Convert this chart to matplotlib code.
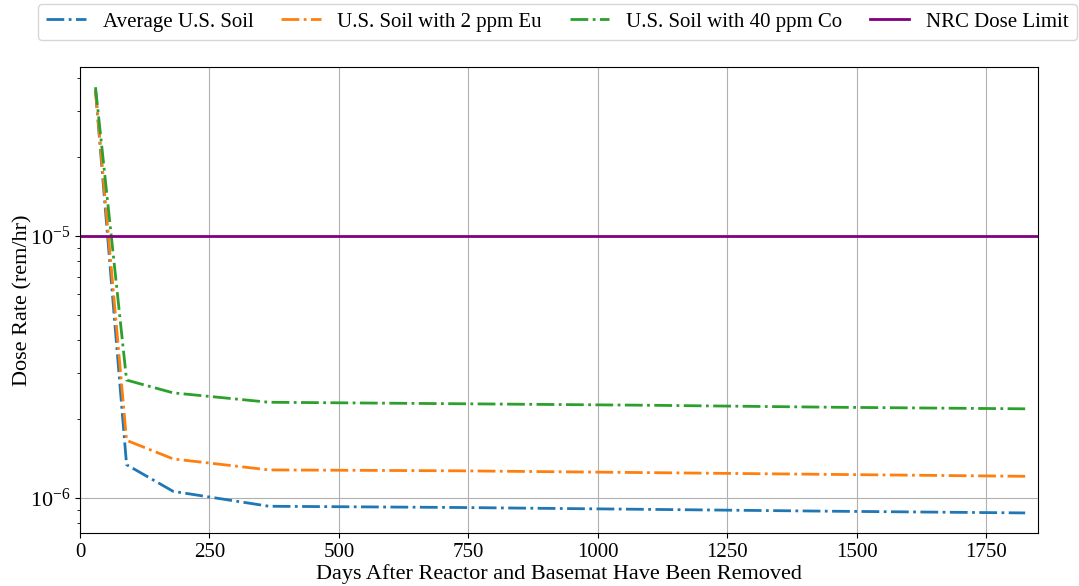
import matplotlib
matplotlib.use("Agg")
import matplotlib.pyplot as plt

plt.rcParams['font.family'] = ['Liberation Serif', 'DejaVu Serif']
plt.rcParams['mathtext.fontset'] = 'stix'

days = [30, 90, 180, 365, 730, 1095, 1460, 1825]
avg_soil = [3.6e-5, 1.34e-6, 1.06e-6, 0.93e-6, 0.92e-6, 0.905e-6, 0.89e-6, 0.877e-6]
eu_soil = [3.6e-5, 1.66e-6, 1.41e-6, 1.28e-6, 1.27e-6, 1.25e-6, 1.23e-6, 1.21e-6]
co_soil = [3.7e-5, 2.82e-6, 2.52e-6, 2.32e-6, 2.29e-6, 2.26e-6, 2.22e-6, 2.19e-6]
nrc_limit = 1e-5

fig = plt.figure(figsize=(10.79, 5.86), dpi=100)
ax = fig.add_axes([0.0741, 0.0904, 0.888, 0.7953])

ax.plot(days, avg_soil, '-.', color='#1f77b4', lw=2, label='Average U.S. Soil')
ax.plot(days, eu_soil, '-.', color='#ff7f0e', lw=2, label='U.S. Soil with 2 ppm Eu')
ax.plot(days, co_soil, '-.', color='#2ca02c', lw=2, label='U.S. Soil with 40 ppm Co')
ax.axhline(nrc_limit, color='purple', lw=2, label='NRC Dose Limit')

ax.set_yscale('log')
ax.set_xlim(0, 1850)
ax.set_ylim(7.35e-7, 4.42e-5)
ax.set_xticks([0, 250, 500, 750, 1000, 1250, 1500, 1750])
ax.grid(True, which='major', color='#b0b0b0', lw=0.8)
ax.tick_params(labelsize=15)
ax.tick_params(axis='y', which='major', labelsize=16)
ax.set_xlabel('Days After Reactor and Basemat Have Been Removed', fontsize=16, labelpad=2)
ax.set_ylabel('Dose Rate (rem/hr)', fontsize=16)
ax.yaxis.set_label_coords(-0.05, 0.5)

fig.legend(loc='lower left', bbox_to_anchor=(0.0352, 0.932, 0.963, 0.059),
           mode='expand', ncol=4, fontsize=15, handlelength=1.9, borderpad=0.4,
           borderaxespad=0)

fig.savefig('out.png', dpi=100)
